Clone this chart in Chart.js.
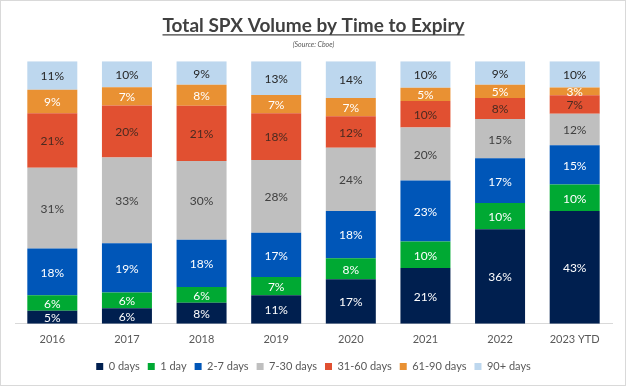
<!DOCTYPE html>
<html>
<head>
<meta charset="utf-8">
<script src="https://cdn.jsdelivr.net/npm/chart.js@4/dist/chart.umd.min.js"></script>
<style>
  html, body { margin: 0; padding: 0; background: #fff; }
  #wrap { position: relative; width: 624px; height: 384px; border: 1px solid #d9d9d9; }
</style>
</head>
<body>
<div id="wrap"><canvas id="c" width="624" height="384"></canvas></div>
<script>
// categories and shares (%)
var years = ["2016", "2017", "2018", "2019", "2020", "2021", "2022", "2023 YTD"];
var days0    = [5, 6, 8, 11, 17, 21, 36, 43];
var days1    = [6, 6, 6, 7, 8, 10, 10, 10];
var days2to7 = [18, 19, 18, 17, 18, 23, 17, 15];
var days7to30 = [31, 33, 30, 28, 24, 20, 15, 12];
var days31to60 = [21, 20, 21, 18, 12, 10, 8, 7];
var days61to90 = [9, 7, 8, 7, 7, 5, 5, 3];
var days90plus = [11, 10, 9, 13, 14, 10, 9, 10];

var series = [
    {label: "0 days", raw: days0, color: "#001f4f", text: "#ffffff"},
    {label: "1 day", raw: days1, color: "#00a933", text: "#ffffff"},
    {label: "2-7 days", raw: days2to7, color: "#0056b8", text: "#ffffff"},
    {label: "7-30 days", raw: days7to30, color: "#bfbfbf", text: "#404040"},
    {label: "31-60 days", raw: days31to60, color: "#e15031", text: "#4a2a20"},
    {label: "61-90 days", raw: days61to90, color: "#e99133", text: "#ffffff"},
    {label: "90+ days", raw: days90plus, color: "#bdd7ee", text: "#262626"}
];

// 100% stacked like Excel: scale each column to its total
var totals = years.map(function(y, i){
    return series.reduce(function(acc, s){ return acc + s.raw[i]; }, 0);
});

var datasets = series.map(function(s){
    return {
        label: s.label,
        raw: s.raw,
        textColor: s.text,
        data: s.raw.map(function(v, i){ return v / totals[i] * 100; }),
        backgroundColor: s.color,
        borderWidth: 0,
        categoryPercentage: 0.67,
        barPercentage: 1.0
    };
});

// draws the % label in the middle of every segment
var segmentLabels = {
    id: "segmentLabels",
    afterDatasetsDraw: function(chart){
        var ctx = chart.ctx;
        ctx.save();
        ctx.font = "12px Lato";
        ctx.textAlign = "center";
        ctx.textBaseline = "middle";
        chart.data.datasets.forEach(function(ds, di){
            chart.getDatasetMeta(di).data.forEach(function(bar, i){
                var p = bar.getProps(["x", "y", "base"], true);
                ctx.fillStyle = ds.textColor;
                ctx.fillText(ds.raw[i] + "%", p.x, (p.y + p.base) / 2 + 1);
            });
        });
        ctx.restore();
    }
};

// underline under the main title
var titleUnderline = {
    id: "titleUnderline",
    afterDraw: function(chart){
        var tb = chart.titleBlock;
        if (!tb) return;
        var ctx = chart.ctx;
        ctx.save();
        ctx.font = "bold 19px Lato";
        var w = ctx.measureText(chart.options.plugins.title.text).width;
        var cx = (tb.left + tb.right) / 2;
        var y = tb.bottom - chart.options.plugins.title.padding.bottom - 2;
        ctx.strokeStyle = "#404040";
        ctx.lineWidth = 1.3;
        ctx.beginPath();
        ctx.moveTo(cx - w / 2, y);
        ctx.lineTo(cx + w / 2, y);
        ctx.stroke();
        ctx.restore();
    }
};

new Chart(document.getElementById("c"), {
    type: "bar",
    data: { labels: years, datasets: datasets },
    plugins: [segmentLabels, titleUnderline],
    options: {
        responsive: false,
        animation: false,
        layout: { padding: { left: 14, right: 13, top: 0, bottom: 3 } },
        scales: {
            x: {
                stacked: true,
                grid: { display: false },
                border: { color: "#d9d9d9", width: 1 },
                ticks: { color: "#595959", font: { family: "Lato", size: 11 }, padding: 1 },
                // a bit more room between the year labels and the legend
                afterFit: function(scale){ scale.height += 6; }
            },
            y: {
                stacked: true,
                display: false,
                min: 0,
                max: 100
            }
        },
        plugins: {
            title: {
                display: true,
                text: "Total SPX Volume by Time to Expiry",
                color: "#404040",
                font: { family: "Lato", size: 19, weight: "bold" },
                padding: { top: 13, bottom: 4 }
            },
            subtitle: {
                display: true,
                text: "(Source: Cboe)",
                color: "#595959",
                font: { family: "Lato", size: 7, style: "italic" },
                padding: { bottom: 12 }
            },
            legend: {
                position: "bottom",
                labels: {
                    color: "#595959",
                    font: { family: "Lato", size: 11 },
                    boxWidth: 7,
                    boxHeight: 7,
                    padding: 8
                }
            },
            tooltip: { enabled: false }
        }
    }
});
</script>
</body>
</html>
